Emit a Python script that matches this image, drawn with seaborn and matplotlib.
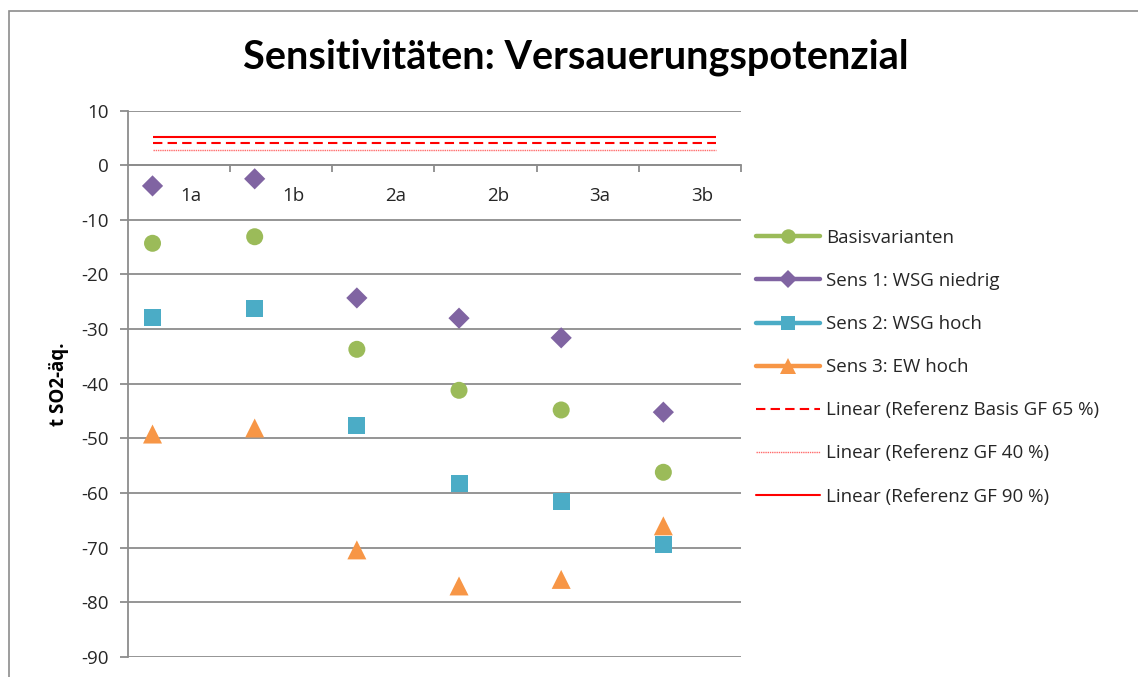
import numpy as np
import pandas as pd
import matplotlib
matplotlib.use("Agg")
import matplotlib.pyplot as plt
from matplotlib.lines import Line2D
from matplotlib.patches import Rectangle
import seaborn as sns

# --- data -------------------------------------------------------------
categories = ["1a", "1b", "2a", "2b", "3a", "3b"]
basis = [-14.3, -13.1, -33.7, -41.2, -44.8, -56.2]
sens1_wsg_niedrig = [-3.8, -2.5, -24.3, -28.0, -31.6, -45.2]
sens2_wsg_hoch = [-27.8, -26.3, -47.7, -58.2, -61.5, -69.5]
sens3_ew_hoch = [-49.2, -48.1, -70.4, -77.0, -75.8, -66.0]

series_names = ["Basisvarianten", "Sens 1: WSG niedrig",
                "Sens 2: WSG hoch", "Sens 3: EW hoch"]
ref_names = ["Linear (Referenz Basis GF 65 %)",
             "Linear (Referenz GF 40 %)",
             "Linear (Referenz GF 90 %)"]
ref_values = [4.1, 2.7, 5.1]

y_ticks = list(range(-90, 11, 10))

# --- styles -----------------------------------------------------------
colors = ["#9BBB59", "#8064A2", "#4BACC6", "#F79646"]
markers = ["o", "D", "s", "^"]
marker_px = [17, 15, 17, 19]
ref_styles = [dict(ls=(0, (4.5, 2.5)), lw=1.5, color="#FF0000"),
              dict(ls=(0, (1, 0.6)), lw=1.0, color="#FF6B6B"),
              dict(ls="-", lw=1.5, color="#FF0000")]
grid_color = "#8C8C8C"
text_color = "#262626"

sns.set_theme(style="white")
plt.rcParams["font.family"] = ["Open Sans", "DejaVu Sans"]

W, H = 1138, 677
fig = plt.figure(figsize=(W / 100, H / 100), dpi=100)
ax = fig.add_axes([128 / W, 1 - 657 / H, (741 - 128) / W, (657 - 110.5) / H])

# outer chart frame
fig.patches.append(Rectangle((9 / W, -0.05), 1.2, 1 - 11 / H + 0.05,
                             transform=fig.transFigure, fill=False,
                             edgecolor="#8C8C8C", lw=1.2, zorder=0))

# long-form table of the marker series
n = len(categories)
idx = np.arange(n)
x_pts = idx - 0.26
df = pd.DataFrame({
    "x": np.tile(x_pts, 4),
    "value": basis + sens1_wsg_niedrig + sens2_wsg_hoch + sens3_ew_hoch,
    "series": np.repeat(series_names, n),
})

for name, c, m, px in zip(series_names, colors, markers, marker_px):
    sub = df[df["series"] == name]
    sns.scatterplot(data=sub, x="x", y="value", ax=ax, color=c, marker=m,
                    s=(px * 0.72) ** 2, edgecolor="none", linewidth=0,
                    legend=False, zorder=3)

# horizontal reference trendlines
for val, st in zip(ref_values, ref_styles):
    ax.hlines(val, x_pts[0], idx[-1] + 0.26, zorder=2, **st)

# axes
ax.set_xlim(-0.5, n - 0.5)
ax.set_ylim(-90, 10)
ax.set_yticks(y_ticks)
ax.set_yticklabels([str(t) for t in y_ticks])
ax.yaxis.grid(True, color=grid_color, lw=1.3)
ax.set_axisbelow(True)
ax.xaxis.grid(False)
ax.set_xlabel("")
ax.set_ylabel("t SO2-äq.", fontsize=13.5, fontweight="bold",
              color="#000000", labelpad=9)

for side in ["top", "right"]:
    ax.spines[side].set_visible(False)
ax.spines["left"].set_color(grid_color)
ax.spines["left"].set_linewidth(1.3)
ax.spines["bottom"].set_position(("data", 0))
ax.spines["bottom"].set_color(grid_color)
ax.spines["bottom"].set_linewidth(1.3)

# category boundaries as ticks on the zero line, names as minor labels
ax.set_xticks(np.arange(1, n + 1) - 0.5)
ax.set_xticklabels([])
ax.set_xticks(idx + 0.12, minor=True)
ax.set_xticklabels(categories, minor=True)
ax.tick_params(axis="x", which="major", direction="out", length=5,
               width=1.3, color=grid_color, bottom=True)
ax.tick_params(axis="x", which="minor", length=0, pad=16,
               labelsize=13.5, labelcolor=text_color)
ax.tick_params(axis="y", direction="out", length=6, width=1.3,
               color=grid_color, left=True, pad=8,
               labelsize=13.5, labelcolor=text_color)

# title
fig.text(576 / W, 1 - 57 / H, "Sensitivitäten: Versauerungspotenzial",
         ha="center", va="center", fontsize=28.5, fontweight="bold",
         family=["Lato", "DejaVu Sans"], color="#000000")

# legend
handles = []
for c, m, px in zip(colors, markers, marker_px):
    handles.append(Line2D([0], [0], color=c, lw=3.2, marker=m,
                          markersize=px * 0.72 * 0.85,
                          markeredgewidth=0, solid_capstyle="round"))
for st in ref_styles:
    handles.append(Line2D([0], [0], **st))
fig.legend(handles, series_names + ref_names, loc="upper left",
           bbox_to_anchor=(739 / W, 1 - 212 / H), frameon=False,
           fontsize=13.5, handlelength=3.4, handletextpad=0.35,
           labelspacing=1.34, labelcolor=text_color)

fig.savefig("out.png", dpi=100, facecolor="white")
